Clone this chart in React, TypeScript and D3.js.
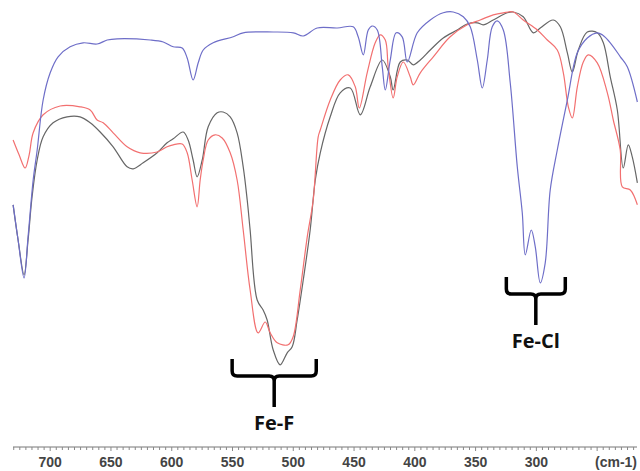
import React from "react";
import * as d3 from "d3";

// wavenumber (cm-1), transmittance (arb. %)
const blueWN = [730.5,726.4,721.5,718.2,714.0,710.7,705.8,700.0,693.5,683.6,672.9,661.4,653.1,644.9,617.7,607.0,598.8,591.4,587.3,582.4,578.2,574.1,565.9,549.4,541.2,516.5,499.9,491.8,480.3,463.8,450.7,446.6,442.4,438.3,435.0,430.9,426.8,424.3,420.2,415.3,410.4,406.2,398.0,387.3,376.6,368.4,360.1,354.4,348.6,344.5,340.4,336.3,332.2,327.2,321.5,315.7,311.6,309.1,304.2,300.9,296.8,292.7,288.6,282.8,274.5,266.3,258.1,249.9,245.8,239.2,230.9,225.2,216.9];
const blueT = [51.3,42.5,33.0,43.3,57.5,65.0,77.5,84.3,88.3,90.8,91.8,91.5,92.5,92.8,92.5,92.0,90.8,90.5,88.0,82.5,86.8,90.0,91.8,93.3,94.3,94.5,94.3,93.5,95.5,95.5,95.8,93.3,88.8,95.0,96.0,95.0,85.8,80.0,87.5,94.3,93.3,87.0,94.3,97.5,99.3,99.5,98.3,95.8,87.5,80.5,87.5,95.8,97.3,95.0,81.8,60.8,49.3,38.8,45.0,40.8,31.8,36.8,55.0,65.0,77.5,89.3,93.0,94.3,93.8,91.8,88.3,85.8,77.0];

const blackWN = [730.5,726.4,721.5,718.2,714.9,710.7,705.8,697.6,686.1,675.4,667.1,658.9,648.2,636.7,631.7,623.5,612.0,603.8,598.8,590.6,586.5,582.4,579.1,574.9,570.0,562.6,557.7,551.9,546.2,541.2,537.9,535.5,529.7,524.8,521.5,516.5,510.8,505.0,500.9,496.8,491.8,486.1,481.9,477.8,469.6,461.4,453.1,444.9,436.7,426.8,420.2,417.8,412.0,406.2,401.3,395.5,387.3,376.6,365.1,356.9,348.6,343.7,335.5,323.9,319.0,310.8,302.5,296.8,286.1,280.3,274.5,270.4,265.5,258.1,249.9,244.9,239.2,233.4,228.5,224.4,221.1,216.9];
const blackT = [51.3,42.5,33.8,42.5,53.3,62.5,68.3,71.8,73.3,73.3,71.8,69.5,65.8,60.8,60.3,61.8,64.3,66.8,67.8,69.5,67.5,62.5,58.3,62.5,70.8,74.3,74.5,73.3,69.3,60.8,52.5,45.0,27.5,25.0,22.5,15.0,11.3,14.3,15.8,22.5,32.5,45.0,57.5,64.3,73.3,79.3,80.5,73.8,80.8,87.5,83.3,80.0,87.0,87.5,86.3,87.5,90.0,93.0,95.0,96.5,96.8,96.3,97.5,99.3,99.5,98.3,94.3,95.5,97.5,95.8,89.3,84.5,90.0,94.5,94.3,91.8,83.3,75.0,60.5,66.3,63.3,56.8];

const redWN = [730.5,725.6,720.6,717.3,714.0,705.8,691.8,675.4,667.1,661.4,656.4,648.2,636.7,626.0,612.0,603.8,598.8,591.4,587.3,583.2,579.1,576.6,574.1,570.0,564.3,558.5,551.9,546.2,541.2,535.5,528.9,523.1,519.0,513.2,504.2,500.1,494.3,488.5,483.6,479.5,477.8,469.6,461.4,454.8,449.0,445.7,439.2,432.6,428.5,424.3,421.9,417.8,414.5,409.5,403.8,401.3,395.5,384.8,370.9,356.9,346.2,335.5,327.2,319.0,310.8,299.2,291.0,282.8,277.8,273.7,270.4,266.3,261.4,257.3,249.9,241.6,236.7,231.0,229.3,222.7,216.9];
const redT = [67.5,63.8,60.5,63.8,69.3,73.8,76.0,75.8,75.0,72.5,71.8,69.3,65.8,64.3,64.5,65.8,66.3,66.5,64.3,57.5,50.8,57.5,62.5,67.5,68.8,68.0,64.3,57.5,45.0,30.0,19.3,22.0,19.3,16.8,16.3,18.3,30.0,43.3,52.5,68.3,70.0,77.5,82.5,83.8,80.8,75.5,84.3,91.8,93.8,92.5,85.8,78.0,83.3,87.0,83.3,81.3,84.3,88.3,93.3,96.3,97.5,98.8,99.3,99.5,97.5,95.0,92.5,90.0,84.3,75.8,73.0,80.8,87.0,88.8,86.8,79.3,72.5,65.0,55.8,55.0,51.3];

const tickLabels = [700, 650, 600, 550, 500, 450, 400, 350, 300];
const unitLabel = "(cm-1)";

const annoLabels = ["Fe-F", "Fe-Cl"];
const annoFrom = [550.3, 324.7];
const annoTo = [481.1, 276.2];
const annoTop = [12.75, 33.25];

const W = 640, H = 471;

export default function App() {
  const x = d3.scaleLinear().domain([730.6, 217.2]).range([13, 637]);
  const y = d3.scaleLinear().domain([0, 100]).range([410, 10]);
  const line = d3.line<[number, number]>()
    .x(d => x(d[0])).y(d => y(d[1]))
    .curve(d3.curveCatmullRom.alpha(0.5));
  const mk = (a: number[], b: number[]) => a.map((v, i) => [v, b[i]] as [number, number]);

  const axisY = 447;
  const minor = d3.range(730, 217, -5);

  const bracket = (i: number) => {
    const l = x(annoFrom[i]), r = x(annoTo[i]);
    const c = (l + r) / 2;
    const top = y(annoTop[i]);
    const bot = top + 17;
    const stem = bot + 31;
    const rr = 5;
    const p = `M${l},${top} L${l},${bot - rr} Q${l},${bot} ${l + rr},${bot} L${c - rr},${bot} Q${c},${bot} ${c},${bot + rr} L${c},${stem} M${c},${bot + rr} Q${c},${bot} ${c + rr},${bot} L${r - rr},${bot} Q${r},${bot} ${r},${bot - rr} L${r},${top}`;
    return (
      <g key={i}>
        <path d={p} fill="none" stroke="#000" strokeWidth={3.5} strokeLinejoin="round" />
        <text x={c} y={stem + 23} textAnchor="middle" fontFamily="'Open Sans', 'Noto Sans', sans-serif" fontWeight={700} fontSize={20} fill="#111">{annoLabels[i]}</text>
      </g>
    );
  };

  return (
    <svg width={W} height={H} style={{ position: "absolute", left: 0, top: 0, background: "#fff" }}>
      <path d={line(mk(blackWN, blackT)) || ""} fill="none" stroke="#666" strokeWidth={1.2} />
      <path d={line(mk(redWN, redT)) || ""} fill="none" stroke="#f27070" strokeWidth={1.2} />
      <path d={line(mk(blueWN, blueT)) || ""} fill="none" stroke="#6e6ec8" strokeWidth={1.2} />
      {annoLabels.map((_, i) => bracket(i))}
      <line x1={13} x2={637} y1={axisY} y2={axisY} stroke="#777" strokeWidth={1} />
      {minor.map(v => (
        <line key={v} x1={x(v)} x2={x(v)} y1={axisY} y2={axisY + (v % 50 === 0 ? 4 : 3)} stroke="#888" strokeWidth={1} />
      ))}
      {tickLabels.map(v => (
        <text key={v} x={x(v)} y={467} textAnchor="middle" fontFamily="'Liberation Sans', Arial, sans-serif" fontWeight={700} fontSize={14} fill="#444">{v}</text>
      ))}
      <text x={637} y={467} textAnchor="end" fontFamily="'Liberation Sans', Arial, sans-serif" fontWeight={700} fontSize={14} fill="#444">{unitLabel}</text>
    </svg>
  );
}
